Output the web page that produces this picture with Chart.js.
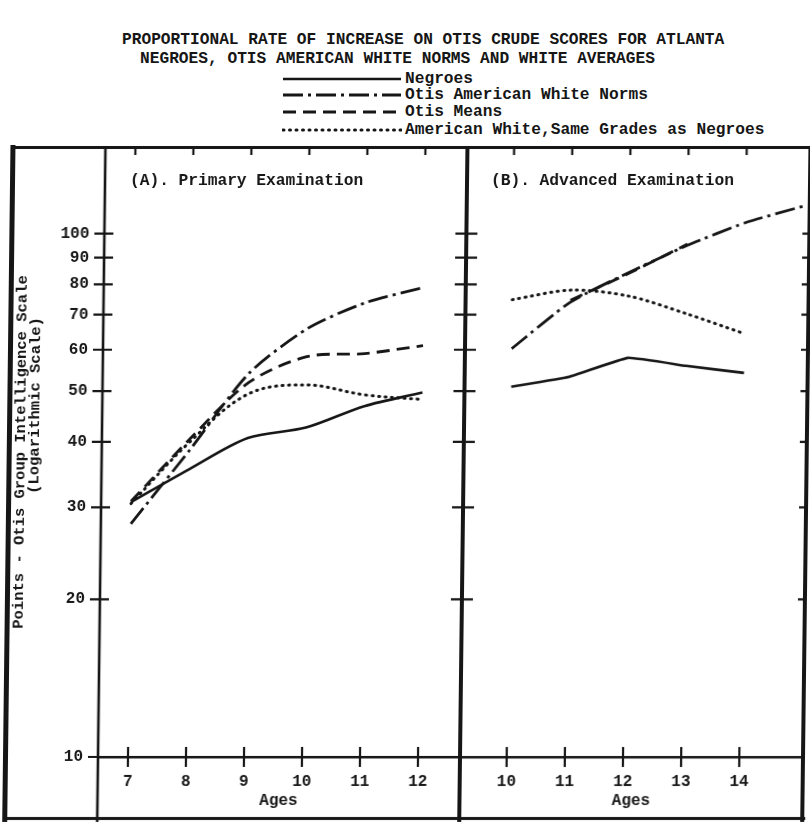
<!DOCTYPE html>
<html>
<head>
<meta charset="utf-8">
<title>Proportional rate of increase on Otis crude scores</title>
<script src="https://cdn.jsdelivr.net/npm/chart.js@4.4.1/dist/chart.umd.min.js"></script>
<style>
  html, body { margin:0; padding:0; background:#fff; }
  #page { position:relative; width:810px; height:822px; overflow:hidden;
          font-family:"Liberation Mono","DejaVu Sans Mono",monospace; font-weight:bold; color:#161616; }
  .t { position:absolute; white-space:pre; font-size:16.2px; line-height:18px; }
  /* the scan leans a little: tops sit further right than bottoms */
  #body { position:absolute; left:0; top:0; width:810px; height:822px;
          transform:skewX(-0.7deg); transform-origin:0 757px; }
  #body canvas { position:absolute; top:0; }
  .rule { position:absolute; background:#161616; }
</style>
</head>
<body>
<div id="page">
  <div id="head">
    <div class="t" style="left:122px;top:31px">PROPORTIONAL RATE OF INCREASE ON OTIS CRUDE SCORES FOR ATLANTA</div>
    <div class="t" style="left:140px;top:50px">NEGROES, OTIS AMERICAN WHITE NORMS AND WHITE AVERAGES</div>
  </div>
  <div id="body">
    <div class="rule" style="left:3px;top:145px;width:5px;height:677px"></div>
    <div class="rule" style="left:3px;top:146px;width:803px;height:2.5px"></div>
    <div class="rule" style="left:3px;top:817px;width:803px;height:3px"></div>
    <canvas id="chartA" width="465" height="822" style="left:0"></canvas>
    <canvas id="chartB" width="355" height="822" style="left:455px"></canvas>
    <div class="t" style="left:123px;top:172px">(A). Primary Examination</div>
    <div class="t" style="left:484px;top:172px">(B). Advanced Examination</div>
  </div>
</div>
<script>
const INK = '#161616';
const FONT = "'Liberation Mono','DejaVu Sans Mono',monospace";

// --- data ---
const seriesNames = ['Negroes', 'Otis American White Norms', 'Otis Means', 'American White,Same Grades as Negroes'];
const yTickValues = [10, 20, 30, 40, 50, 60, 70, 80, 90, 100];

// (A) Primary examination
const agesA = [7, 8, 9, 10, 11, 12];
const negroesA = [30.7, 35.5, 40.7, 42.6, 46.8, 49.7];
const otisNormsA = [27.9, 38.6, 54.0, 65.8, 73.8, 78.9];
const otisMeansA = [30.8, 40.5, 51.9, 58.2, 59.0, 61.1];
const whiteSameA = [30.5, 40.0, 49.4, 51.4, 49.2, 48.2];

// (B) Advanced examination
const agesB = [10, 11, 12, 13, 14];
const negroesB = [51.0, 53.3, 57.9, 55.9, 54.2];
const otisNormsAgesB = [10, 11, 12, 13, 14, 15];
const otisNormsB = [60.3, 74.0, 84.3, 95.0, 105.0, 113.0];
const otisMeansAgesB = [11, 12, 13];
const otisMeansB = [74.6, 84.0, 95.5];
const whiteSameB = [74.8, 78.0, 76.0, 70.3, 64.4];

// line look per series (solid, dash-dot, dashed, dotted)
const lineStyles = [
  { dash: [], width: 2.6, cap: 'butt' },
  { dash: [20, 5, 3, 5], width: 2.8, cap: 'butt' },
  { dash: [13, 7], width: 2.8, cap: 'butt' },
  { dash: [1, 5.5], width: 3, cap: 'round' }
];

const pts = (xs, ys) => xs.map((x, i) => ({ x, y: ys[i] }));

function ds(i, data, tension) {
  const s = lineStyles[i];
  return {
    label: seriesNames[i], data,
    borderColor: INK, borderWidth: s.width, borderDash: s.dash, borderCapStyle: s.cap,
    pointRadius: 0, tension, fill: false
  };
}

// legend rows in the header
const head = document.getElementById('head');
const legendRowY = [79, 95, 112, 130];
seriesNames.forEach((name, i) => {
  const c = document.createElement('canvas');
  c.width = 120; c.height = 10;
  c.style.cssText = 'position:absolute;left:282px;top:' + (legendRowY[i] - 5) + 'px';
  const g = c.getContext('2d');
  g.strokeStyle = INK; g.lineWidth = lineStyles[i].width;
  g.setLineDash(lineStyles[i].dash); g.lineCap = lineStyles[i].cap;
  g.beginPath(); g.moveTo(1, 5); g.lineTo(119, 5); g.stroke();
  head.appendChild(c);
  const t = document.createElement('div');
  t.className = 't'; t.textContent = name;
  t.style.left = '405px'; t.style.top = (legendRowY[i] - 9) + 'px';
  head.appendChild(t);
});

// panel edges and crossing tick marks
const panelFrame = {
  id: 'panelFrame',
  afterDraw(chart, args, o) {
    const { ctx, chartArea: a, scales: { x, y } } = chart;
    ctx.save();
    ctx.strokeStyle = INK;
    (o.edges || []).forEach(e => {
      const px = e.side === 'left' ? a.left : a.right;
      ctx.lineWidth = e.width;
      ctx.beginPath(); ctx.moveTo(px, a.top - 1); ctx.lineTo(px, chart.height); ctx.stroke();
    });
    ctx.lineWidth = 2.2;
    ctx.beginPath();
    y.ticks.forEach(t => {
      const py = y.getPixelForValue(t.value);
      if (o.leftTick) { ctx.moveTo(a.left - o.leftTick[0], py); ctx.lineTo(a.left + o.leftTick[1], py); }
      if (o.rightTick) { ctx.moveTo(a.right - o.rightTick[0], py); ctx.lineTo(a.right + o.rightTick[1], py); }
    });
    x.ticks.forEach(t => {
      const px = x.getPixelForValue(t.value);
      ctx.moveTo(px, a.bottom - 10); ctx.lineTo(px, a.bottom + 10);
      ctx.moveTo(px, a.top); ctx.lineTo(px, a.top + 8);
    });
    ctx.stroke();
    ctx.restore();
  }
};

function panelOptions(p) {
  const font = { family: FONT, size: 16, weight: 'bold' };
  return {
    responsive: false, animation: false, devicePixelRatio: 1,
    layout: { padding: { left: 0, right: p.padRight, top: 147, bottom: 0 } },
    plugins: { legend: { display: false }, tooltip: { enabled: false }, panelFrame: p.frame },
    scales: {
      x: {
        type: 'linear', min: p.xMin, max: p.xMax,
        grid: { display: false, drawTicks: false },
        border: { display: true, color: INK, width: 2.5 },
        afterBuildTicks: s => { s.ticks = p.xTicks.map(v => ({ value: v })); },
        afterFit: s => { s.height = 65; },
        ticks: { color: INK, font, padding: 15, maxRotation: 0, autoSkip: false, callback: v => String(v) },
        title: { display: true, text: 'Ages', color: INK, font, padding: { top: 0, bottom: 11 } }
      },
      y: {
        type: 'logarithmic', min: 10, max: 146.4,
        grid: { display: false, drawTicks: false },
        border: { display: false },
        afterBuildTicks: s => { s.ticks = yTickValues.map(v => ({ value: v })); },
        afterFit: s => { s.width = p.yWidth; },
        ticks: { display: p.yLabels, color: INK, font, padding: 15, autoSkip: false, callback: v => String(v) },
        title: p.yTitle || { display: false }
      }
    }
  };
}

new Chart(document.getElementById('chartA'), {
  type: 'line',
  data: {
    datasets: [
      ds(0, pts(agesA, negroesA), 0.3),
      ds(1, pts(agesA, otisNormsA), 0.25),
      ds(2, pts(agesA, otisMeansA), 0.3),
      ds(3, pts(agesA, whiteSameA), 0.35)
    ]
  },
  options: panelOptions({
    xMin: 6.483, xMax: 12.724, xTicks: agesA, padRight: 5, yWidth: 98, yLabels: true,
    frame: { edges: [{ side: 'left', width: 2.6 }, { side: 'right', width: 4 }], leftTick: [10, 9], rightTick: [11, 0] },
    yTitle: {
      display: true,
      text: ['Points - Otis Group Intelligence Scale', '          (Logarithmic Scale)'],
      color: INK, font: { family: FONT, size: 15.5, weight: 'bold', lineHeight: 0.9 },
      padding: { top: 10.5, bottom: 0 }
    }
  }),
  plugins: [panelFrame]
});

new Chart(document.getElementById('chartB'), {
  type: 'line',
  data: {
    datasets: [
      ds(0, pts(agesB, negroesB), 0.1),
      ds(1, pts(otisNormsAgesB, otisNormsB), 0.2),
      ds(2, pts(otisMeansAgesB, otisMeansB), 0.2),
      ds(3, pts(agesB, whiteSameB), 0.3)
    ]
  },
  options: panelOptions({
    xMin: 9.197, xMax: 15.095, xTicks: agesB, padRight: 7, yWidth: 5, yLabels: false,
    frame: { edges: [{ side: 'right', width: 4 }], leftTick: [0, 11], rightTick: [7, 0] }
  }),
  plugins: [panelFrame]
});
</script>
</body>
</html>
